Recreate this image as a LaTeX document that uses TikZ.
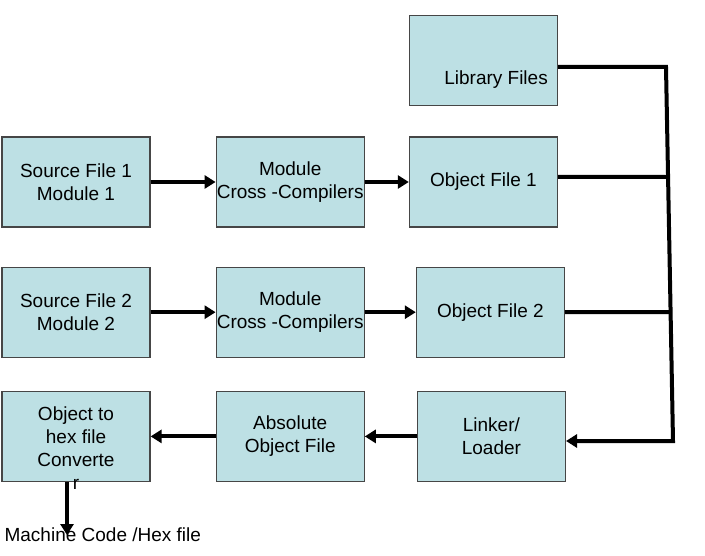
\documentclass[tikz,border=0pt]{standalone}
\usepackage{fontspec}
\setmainfont{Liberation Sans}
\usetikzlibrary{arrows.meta, calc, positioning}
\definecolor{boxfill}{RGB}{189,224,228}
\definecolor{boxline}{RGB}{70,70,70}
\tikzstyle{block} = [rectangle, line width=1.2pt, minimum width=148pt, minimum height=90pt, inner sep=0pt, text centered, align=center, draw=boxline, fill=boxfill]
\tikzstyle{arrow} = [line width=4pt, -{Triangle[length=11pt, width=13pt]}]
\tikzstyle{bus} = [line width=4pt]

\begin{document}
\begin{tikzpicture}[x=1pt, y=1pt, font=\fontsize{19}{23}\selectfont]
	\useasboundingbox (0,0) rectangle (705,-556);
	\node (Source1) [block] at (76,-182) {Source File 1\\Module 1};
	\node (Compiler1) [block, right = 65pt of Source1] {Module\\Cross -Compilers};
	\node (Object1) [block, right = 44pt of Compiler1] {Object File 1};
	\node (Library) [block, above = 30pt of Object1] {};
	\node (LibraryText) [anchor=east, inner sep=0pt] at ($(Library.east)+(-10pt,-19pt)$) {Library Files};
	\node (Source2) [block, below = 39pt of Source1] {Source File 2\\Module 2};
	\node (Compiler2) [block, right = 65pt of Source2] {Module\\Cross -Compilers};
	\node (Object2) [block, right = 51pt of Compiler2] {Object File 2};
	\node (Hex) [block, below = 33pt of Source2] {};
	\node (HexText) [align=center, inner sep=0pt] at ($(Hex.center)+(0,-12pt)$) {Object to\\hex file\\Converte\\r};
	\node (Absolute) [block, right = 65pt of Hex] {Absolute\\Object File};
	\node (Linker) [block, right = 52pt of Absolute] {Linker/\\Loader};
	\node (Machine) [anchor=west, inner sep=0pt] at ($(Hex.south west)+(3pt,-53pt)$) {Machine Code /Hex file};
	\coordinate (BusTop) at (666,-67);
	\coordinate (BusBottom) at (673,-441);
	\coordinate (Object1Out) at ([yshift=5pt]Object1.east);
	\coordinate (Object1Back) at ([yshift=5pt]Object1.west);
	\coordinate (HexOut) at ([xshift=-9pt]Hex.south);
	\draw [arrow] (Source1) -- (Compiler1);
	\draw [arrow] (Compiler1) -- (Object1);
	\draw [arrow] (Source2) -- (Compiler2);
	\draw [arrow] (Compiler2) -- (Object2);
	\draw [arrow] (Linker) -- (Absolute);
	\draw [arrow] (Absolute) -- (Hex);
	\draw [arrow] (Library.east |- BusTop) -- (BusTop) -- (BusBottom) -- (Linker.east |- BusBottom);
	\draw [bus] (Object1Out) -- (intersection of BusTop--BusBottom and Object1Out--Object1Back);
	\draw [bus] (Object2.east) -- (intersection of BusTop--BusBottom and Object2.east--Object2.west);
	\draw [arrow] (HexOut) -- (HexOut |- Machine.center);
\end{tikzpicture}
\end{document}
